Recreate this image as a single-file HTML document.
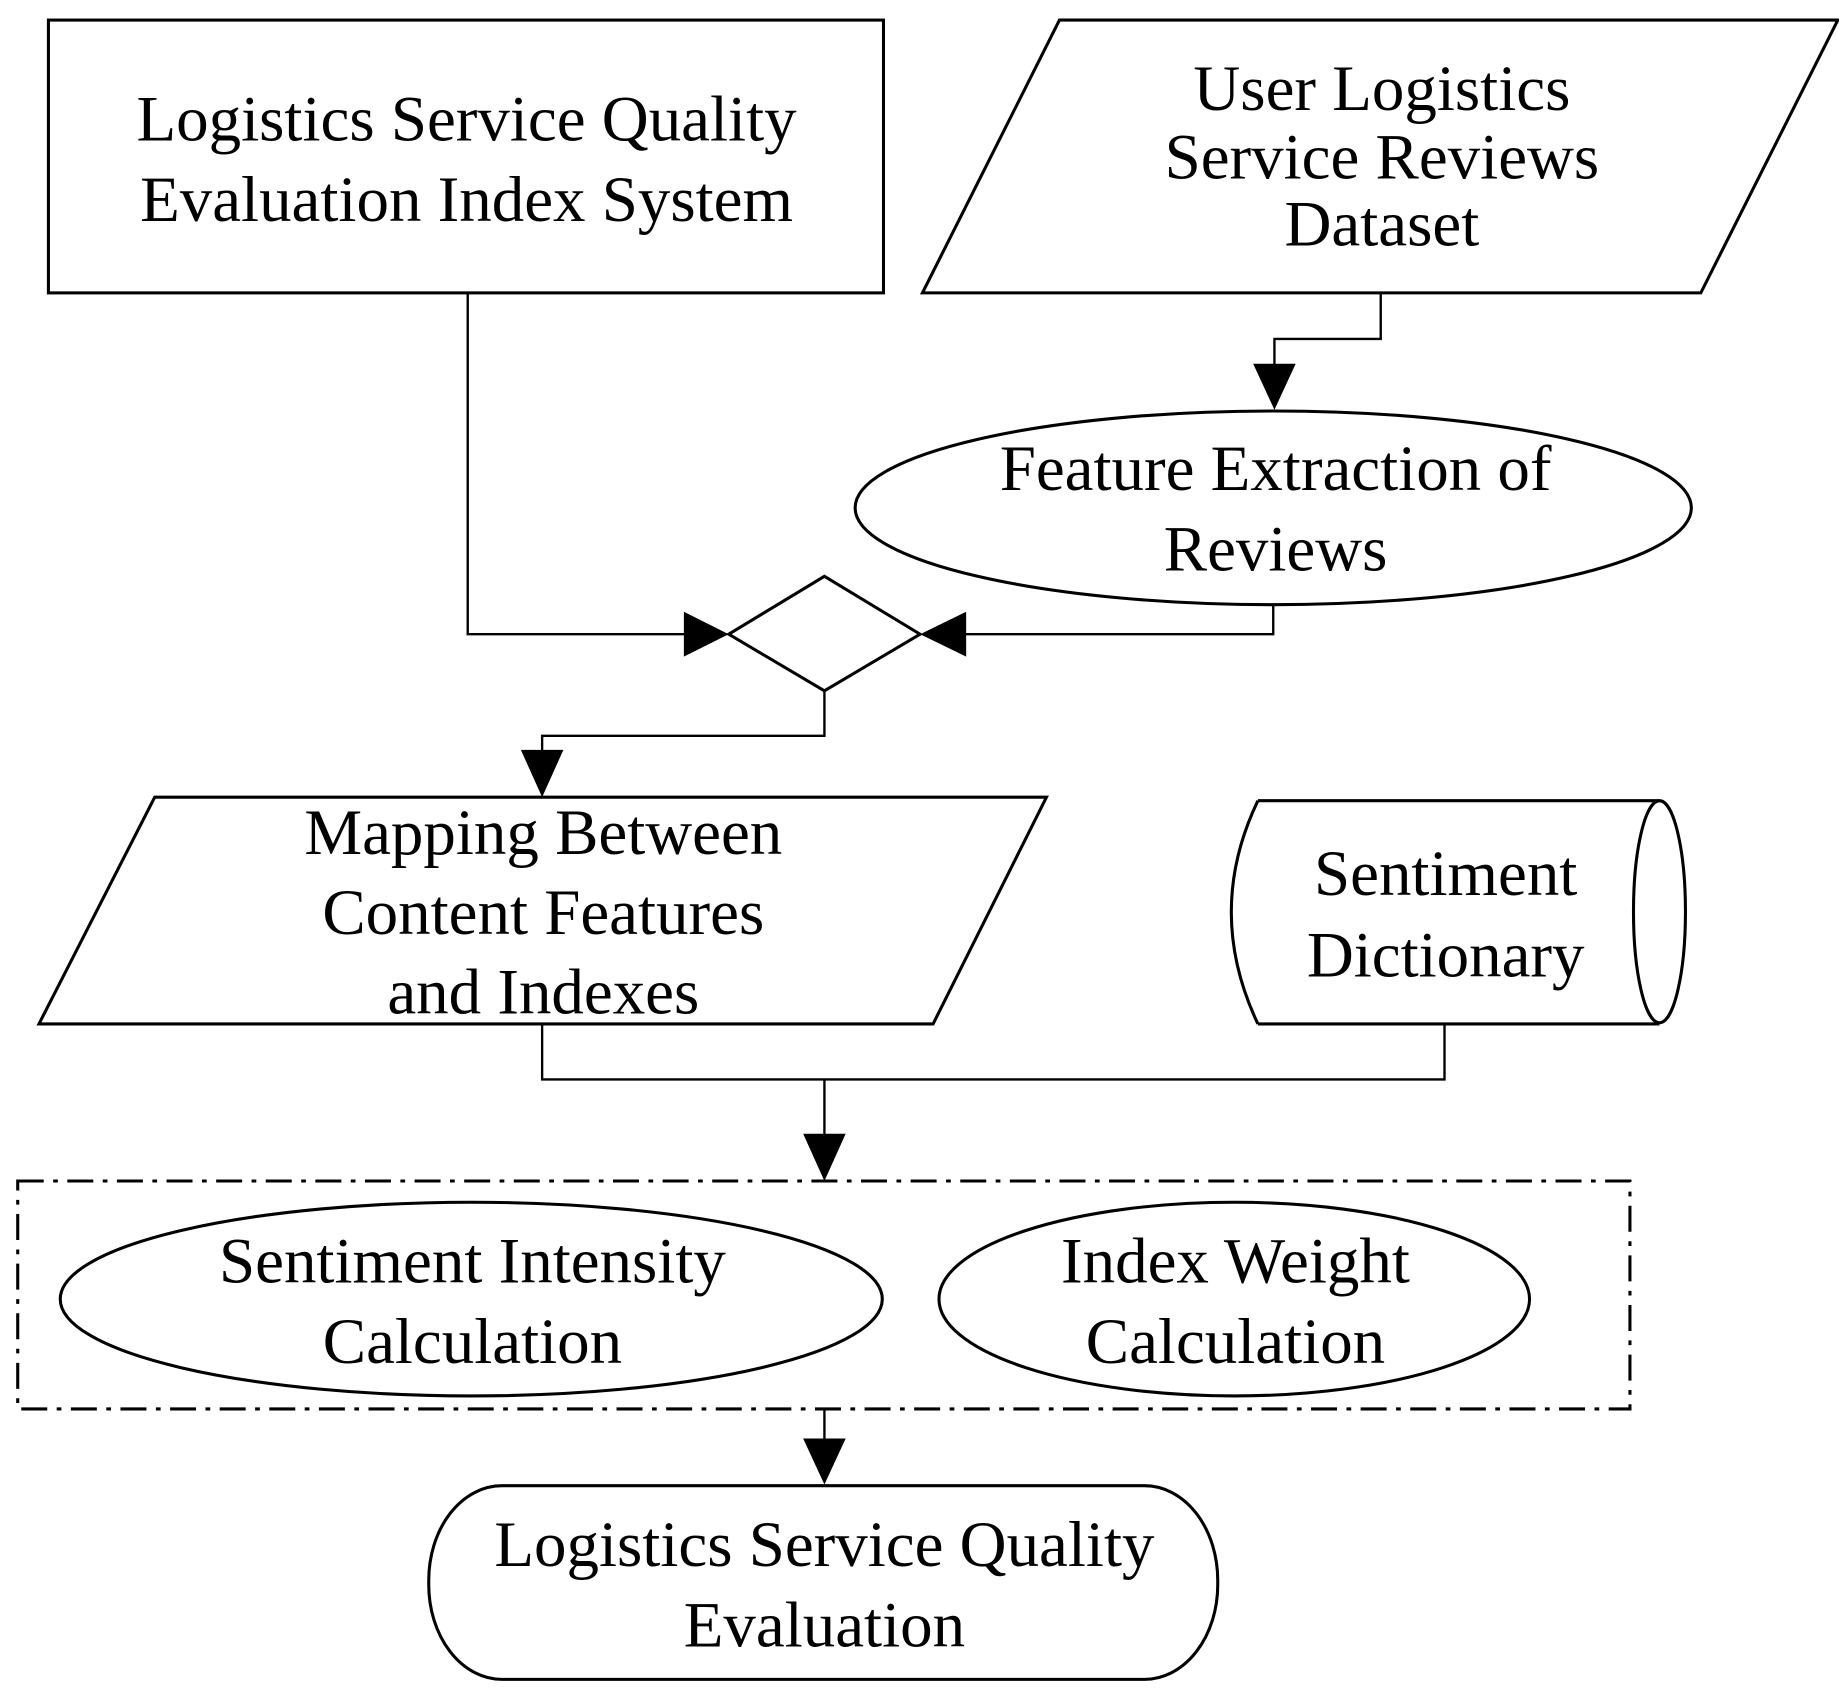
<!DOCTYPE html>
<html><head><meta charset="utf-8"><style>html,body{margin:0;padding:0;background:#fff}svg{display:block}</style></head>
<body>
<svg width="1839" height="1690" viewBox="0 0 1557 1431" preserveAspectRatio="none" xmlns="http://www.w3.org/2000/svg">
<g fill="none" stroke="#000" stroke-width="2.6">
<rect x="41" y="17" width="707" height="231"/>
<polygon points="897,17 1556,17 1440,248 781,248"/>
<ellipse cx="1078" cy="430" rx="354" ry="82"/>
<polygon points="617,537 698,488 779,537 698,585"/>
<polygon points="131,675 886,675 790,867 33,867"/>
<path d="M1065,678 L1405,678 M1065,867 L1405,867 M1065,678 Q1020,772 1065,867"/>
<ellipse cx="1405" cy="772" rx="22" ry="94"/>
<rect x="15" y="1000" width="1365" height="193" stroke-dasharray="22,8,4,8"/>
<ellipse cx="399" cy="1100" rx="348" ry="82"/>
<ellipse cx="1045" cy="1100" rx="250" ry="82"/>
<rect x="363" y="1258" width="668" height="164" rx="62" ry="80"/>
</g>
<g fill="none" stroke="#000" stroke-width="2">
<polyline points="1169,248 1169,287 1079,287 1079,320"/>
<polyline points="396,248 396,537 585,537"/>
<polyline points="1078,512 1078,537 812,537"/>
<polyline points="698,585 698,623 459,623 459,645"/>
<polyline points="459,867 459,914 1223,914 1223,867"/>
<polyline points="698,914 698,965"/>
<polyline points="698,1193 698,1225"/>
</g>
<g fill="#000">
<polygon points="1061,308 1097,308 1079,347"/>
<polygon points="579,518 579,556 617,537"/>
<polygon points="818,518 818,556 779,537"/>
<polygon points="441,635 477,635 459,675"/>
<polygon points="680,960 716,960 698,1000"/>
<polygon points="680,1218 716,1218 698,1257"/>
</g>
<g font-family="Liberation Serif, serif" font-size="55" text-anchor="middle" fill="#000">
<text x="395" y="119">Logistics Service Quality</text>
<text x="395" y="187">Evaluation Index System</text>
<text x="1170" y="93">User Logistics</text>
<text x="1170" y="151">Service Reviews</text>
<text x="1170" y="208">Dataset</text>
<text x="1080" y="415">Feature Extraction of</text>
<text x="1080" y="483">Reviews</text>
<text x="460" y="723">Mapping Between</text>
<text x="460" y="791">Content Features</text>
<text x="460" y="858">and Indexes</text>
<text x="1224" y="758">Sentiment</text>
<text x="1224" y="827">Dictionary</text>
<text x="400" y="1086">Sentiment Intensity</text>
<text x="400" y="1154">Calculation</text>
<text x="1046" y="1086">Index Weight</text>
<text x="1046" y="1154">Calculation</text>
<text x="698" y="1326">Logistics Service Quality</text>
<text x="698" y="1394">Evaluation</text>
</g>
</svg>
</body></html>
